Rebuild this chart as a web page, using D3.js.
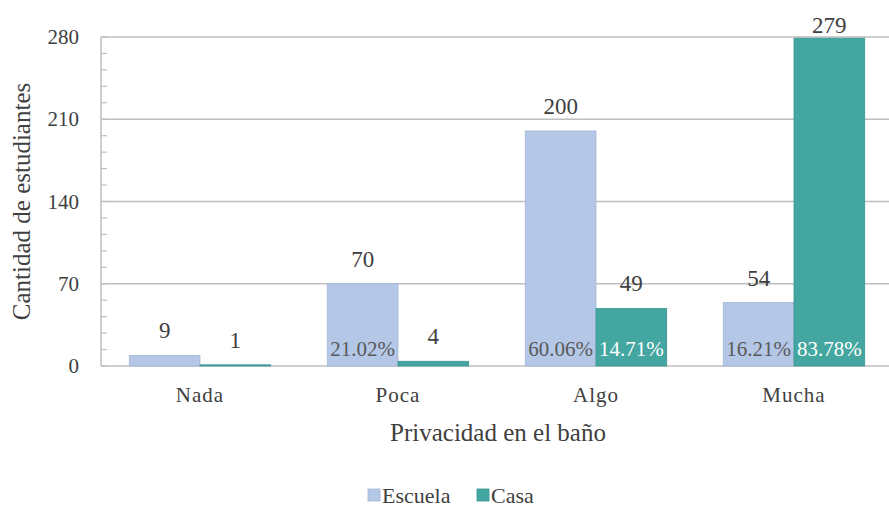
<!DOCTYPE html>
<html>
<head>
<meta charset="utf-8">
<script src="https://cdn.jsdelivr.net/npm/d3@7"></script>
</head>
<body style="margin:0">
<svg width="889" height="508"></svg>
<script>
var categories = ['Nada', 'Poca', 'Algo', 'Mucha'];
var seriesNames = ['Escuela', 'Casa'];
var escuela = [9, 70, 200, 54];
var casa = [1, 4, 49, 279];
var escuelaPct = ['', '21.02%', '60.06%', '16.21%'];
var casaPct = ['', '', '14.71%', '83.78%'];
var yTicks = [0, 70, 140, 210, 280];

var colors = {Escuela: '#b4c7e7', Casa: '#43a6a0'};
var strokes = {Escuela: '#a3b6d6', Casa: '#3a9791'};
var TXT = '#404040';

var svg = d3.select('svg');
var margin = {t: 37, l: 101, r: -4, b: 142};
var w = 889 - margin.l - margin.r;
var h = 508 - margin.t - margin.b;

var g = svg.append('g')
    .attr('transform', 'translate(' + margin.l + ',' + margin.t + ')');

var x = d3.scaleBand().domain(categories).range([0, w]);
var x1 = d3.scaleBand().domain(seriesNames).range([0, x.bandwidth()]).paddingOuter(0.4).paddingInner(0);
var y = d3.scaleLinear().domain([0, 280]).range([h, 0]);

// gridlines
g.selectAll('.grid')
    .data(yTicks)
    .enter().append('line')
    .attr('x1', 0).attr('x2', w)
    .attr('y1', function(d){ return y(d); })
    .attr('y2', function(d){ return y(d); })
    .attr('stroke', '#bfbfbf')
    .attr('stroke-width', 1.5);

// left axis line + minor ticks
g.append('line')
    .attr('x1', 0).attr('x2', 0).attr('y1', 0).attr('y2', h)
    .attr('stroke', '#bfbfbf').attr('stroke-width', 1.5);
g.selectAll('.minor')
    .data(d3.range(0, 281, 14))
    .enter().append('line')
    .attr('x1', 0).attr('x2', 6)
    .attr('y1', function(d){ return y(d); })
    .attr('y2', function(d){ return y(d); })
    .attr('stroke', '#bfbfbf').attr('stroke-width', 1.2);

// tick labels
g.selectAll('.ytick')
    .data(yTicks)
    .enter().append('text')
    .attr('text-anchor', 'end')
    .attr('x', -22)
    .attr('y', function(d){ return y(d) + 7; })
    .attr('font-family', 'Liberation Serif').attr('fill', TXT)
    .attr('font-size', 21)
    .text(function(d){ return d; });

var rows = categories.map(function(c, i){
    return [
        {cat: c, key: 'Escuela', v: escuela[i], pct: escuelaPct[i]},
        {cat: c, key: 'Casa', v: casa[i], pct: casaPct[i]}
    ];
});

var groups = g.selectAll('.cat')
    .data(rows)
    .enter().append('g')
    .attr('transform', function(d){ return 'translate(' + x(d[0].cat) + ',0)'; });

groups.selectAll('rect')
    .data(function(d){ return d; })
    .enter().append('rect')
    .attr('x', function(d){ return x1(d.key); })
    .attr('width', x1.bandwidth())
    .attr('y', function(d){ return y(d.v); })
    .attr('height', function(d){ return h - y(d.v); })
    .attr('fill', function(d){ return colors[d.key]; })
    .attr('stroke', function(d){ return strokes[d.key]; })
    .attr('stroke-width', 0.8);

groups.selectAll('.val')
    .data(function(d){ return d; })
    .enter().append('text')
    .attr('text-anchor', 'middle')
    .attr('x', function(d){ return x1(d.key) + x1.bandwidth()/2; })
    .attr('y', function(d){ return Math.max(y(d.v) - 17, -4); })
    .attr('font-family', 'Liberation Serif').attr('fill', TXT)
    .attr('font-size', 23)
    .text(function(d){ return d.v; });

groups.selectAll('.pct')
    .data(function(d){ return d.filter(function(e){ return e.pct; }); })
    .enter().append('text')
    .attr('text-anchor', 'middle')
    .attr('x', function(d){ return x1(d.key) + x1.bandwidth()/2; })
    .attr('y', h - 10)
    .attr('font-family', 'Liberation Serif')
    .attr('font-size', 21)
    .attr('fill', function(d){ return d.key == 'Casa' ? '#ffffff' : '#595959'; })
    .text(function(d){ return d.pct; });

// category labels
g.selectAll('.xlab')
    .data(categories)
    .enter().append('text')
    .attr('text-anchor', 'middle')
    .attr('x', function(d){ return x(d) + x.bandwidth()/2; })
    .attr('y', h + 36)
    .attr('font-family', 'Liberation Serif').attr('fill', TXT)
    .attr('font-size', 21)
    .attr('letter-spacing', 1)
    .text(function(d){ return d; });

// axis titles
svg.append('text')
    .attr('text-anchor', 'middle')
    .attr('x', margin.l + x.bandwidth()*2 + 1)
    .attr('y', 441)
    .attr('font-family', 'Liberation Serif').attr('fill', TXT)
    .attr('font-size', 25)
    .text('Privacidad en el baño');

svg.append('text')
    .attr('text-anchor', 'middle')
    .attr('transform', 'translate(30,' + (margin.t + h/2) + ') rotate(-90)')
    .attr('font-family', 'Liberation Serif').attr('fill', TXT)
    .attr('font-size', 25)
    .text('Cantidad de estudiantes');

// legend
var leg = svg.append('g').attr('transform', 'translate(368,489)');
var legItems = [{k: 'Escuela', x: 0}, {k: 'Casa', x: 109}];
leg.selectAll('rect')
    .data(legItems)
    .enter().append('rect')
    .attr('x', function(d){ return d.x; })
    .attr('y', 0)
    .attr('width', 12).attr('height', 12)
    .attr('fill', function(d){ return colors[d.k]; })
    .attr('stroke', function(d){ return strokes[d.k]; })
    .attr('stroke-width', 0.8);
leg.selectAll('text')
    .data(legItems)
    .enter().append('text')
    .attr('x', function(d){ return d.x + 14; })
    .attr('y', 14)
    .attr('font-family', 'Liberation Serif').attr('fill', TXT)
    .attr('font-size', 22)
    .text(function(d){ return d.k; });
</script>
</body>
</html>
